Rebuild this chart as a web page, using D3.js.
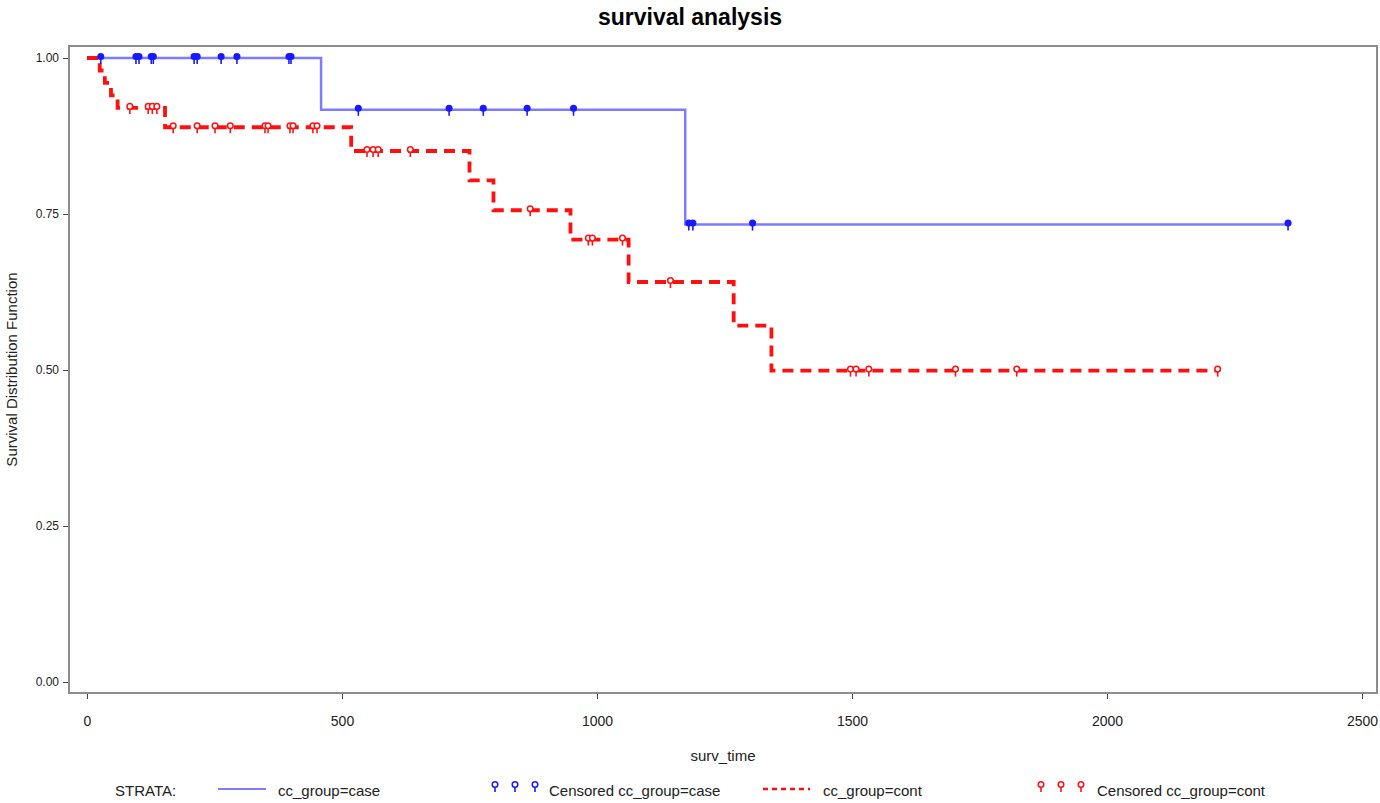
<!DOCTYPE html>
<html>
<head>
<meta charset="utf-8">
<script src="https://cdn.jsdelivr.net/npm/d3@7"></script>
<style>
  body { margin: 0; background: #fff; }
  text { font-family: "Liberation Sans", Arial, sans-serif; }
</style>
</head>
<body>
<div id="chart"></div>
<script>
// Kaplan-Meier steps
const caseTime = [0, 459, 1173]
const caseSurv = [1, 0.917, 0.733]
const caseEnd = 2355

const contTime = [0, 25, 35, 47, 60, 153, 518, 750, 797, 948, 1062, 1268, 1342]
const contSurv = [1, 0.98, 0.96, 0.94, 0.92, 0.889, 0.851, 0.804, 0.756, 0.709, 0.641, 0.571, 0.499]
const contEnd = 2217

// censored observations
const caseCensTime = [27, 96, 102, 126, 130, 210, 216, 263, 294, 396, 400,
                      532, 710, 777, 863, 954, 1180, 1188, 1305, 2355]
const caseCensSurv = [1, 1, 1, 1, 1, 1, 1, 1, 1, 1, 1,
                      0.917, 0.917, 0.917, 0.917, 0.917, 0.733, 0.733, 0.733, 0.733]

const contCensTime = [84, 120, 128, 137,
                      169, 216, 251, 281, 349, 355, 398, 404, 443, 451,
                      549, 561, 571, 634, 869, 983, 991, 1050, 1144,
                      1497, 1508, 1533, 1703, 1823, 2217]
const contCensSurv = [0.92, 0.92, 0.92, 0.92,
                      0.889, 0.889, 0.889, 0.889, 0.889, 0.889, 0.889, 0.889, 0.889, 0.889,
                      0.851, 0.851, 0.851, 0.851, 0.756, 0.709, 0.709, 0.709, 0.641,
                      0.499, 0.499, 0.499, 0.499, 0.499, 0.499]

const xTicks = [0, 500, 1000, 1500, 2000, 2500]
const yTicks = [0, 0.25, 0.5, 0.75, 1]

const width = 1380, height = 803
const frame = { left: 69, top: 46, right: 1377, bottom: 693 }
const blueLine = "#7c7cff", blueMark = "#1a1aff", red = "#ff1010"

const svg = d3.select("#chart").append("svg")
    .attr("width", width)
    .attr("height", height)

const x = d3.scaleLinear().domain([0, 2500]).range([87, 1362])
const y = d3.scaleLinear().domain([0, 1]).range([682, 58])

// title
svg.append("text")
    .attr("x", width / 2).attr("y", 25)
    .attr("text-anchor", "middle")
    .style("font-size", "23px").style("font-weight", "bold")
    .text("survival analysis")

// frame
svg.append("rect")
    .attr("x", frame.left).attr("y", frame.top)
    .attr("width", frame.right - frame.left)
    .attr("height", frame.bottom - frame.top)
    .style("fill", "none").style("stroke", "#8c8c8c").style("stroke-width", 2)

// axes
const yAxis = svg.append("g")
    .attr("transform", `translate(${frame.left - 1},0)`)
    .call(d3.axisLeft(y).tickValues(yTicks).tickFormat(d3.format(".2f")).tickSize(5).tickPadding(4))
yAxis.select(".domain").remove()
yAxis.selectAll(".tick text").style("font-size", "12px")

const xAxis = svg.append("g")
    .attr("transform", `translate(0,${frame.bottom + 1})`)
    .call(d3.axisBottom(x).tickValues(xTicks).tickFormat(d3.format("d")).tickSize(5).tickPadding(17))
xAxis.select(".domain").remove()
xAxis.selectAll(".tick text").style("font-size", "14px")

svg.selectAll(".tick line").style("stroke", "#444")
svg.selectAll(".tick text").style("fill", "#222")
    .style("font-family", "'Liberation Sans', Arial, sans-serif")

// axis labels
svg.append("text")
    .attr("transform", `translate(17,${(frame.top + frame.bottom) / 2}) rotate(-90)`)
    .attr("text-anchor", "middle")
    .style("font-size", "15px").style("fill", "#222")
    .text("Survival Distribution Function")

svg.append("text")
    .attr("x", 723).attr("y", 761)
    .attr("text-anchor", "middle")
    .style("font-size", "15px").style("fill", "#222")
    .text("surv_time")

// step curves
const step = d3.line()
    .x(d => x(d[0]))
    .y(d => y(d[1]))
    .curve(d3.curveStepAfter)

const casePts = caseTime.map((t, i) => [t, caseSurv[i]]).concat([[caseEnd, caseSurv[caseSurv.length - 1]]])
const contPts = contTime.map((t, i) => [t, contSurv[i]]).concat([[contEnd, contSurv[contSurv.length - 1]]])

svg.append("path")
    .attr("d", step(casePts))
    .style("fill", "none").style("stroke", blueLine).style("stroke-width", 2.5)

svg.append("path")
    .attr("d", step(contPts))
    .style("fill", "none").style("stroke", red).style("stroke-width", 3.8)
    .style("stroke-dasharray", "11,7")

// censor marker: small balloon (circle over a stem)
function marker(g, cx, cy, color, filled) {
    g.append("line")
        .attr("x1", cx).attr("x2", cx)
        .attr("y1", cy).attr("y2", cy + 6)
        .style("stroke", color).style("stroke-width", 1.6)
    g.append("circle")
        .attr("cx", cx).attr("cy", cy - 1.5).attr("r", 2.8)
        .style("fill", filled ? color : "#fff")
        .style("stroke", color).style("stroke-width", 1.5)
}

const caseMarks = svg.append("g").attr("id", "case-censored")
caseCensTime.forEach((t, i) => marker(caseMarks, x(t), y(caseCensSurv[i]), blueMark, true))

const contMarks = svg.append("g").attr("id", "cont-censored")
contCensTime.forEach((t, i) => marker(contMarks, x(t), y(contCensSurv[i]), red, false))

// legend
const leg = svg.append("g").attr("id", "legend")
const legY = 791
const legText = (lx, s) => leg.append("text")
    .attr("x", lx).attr("y", legY + 5)
    .style("font-size", "15px").style("fill", "#222")
    .text(s)

legText(115, "STRATA:")
leg.append("line")
    .attr("x1", 218).attr("x2", 266).attr("y1", legY - 2).attr("y2", legY - 2)
    .style("stroke", blueLine).style("stroke-width", 2)
legText(278, "cc_group=case")
;[495, 515, 535].forEach(lx => marker(leg, lx, legY - 5, blueMark, false))
legText(549, "Censored cc_group=case")
leg.append("line")
    .attr("x1", 763).attr("x2", 810).attr("y1", legY - 2).attr("y2", legY - 2)
    .style("stroke", red).style("stroke-width", 2.5).style("stroke-dasharray", "5,4")
legText(823, "cc_group=cont")
;[1041, 1061, 1081].forEach(lx => marker(leg, lx, legY - 5, red, false))
legText(1097, "Censored cc_group=cont")
</script>
</body>
</html>
